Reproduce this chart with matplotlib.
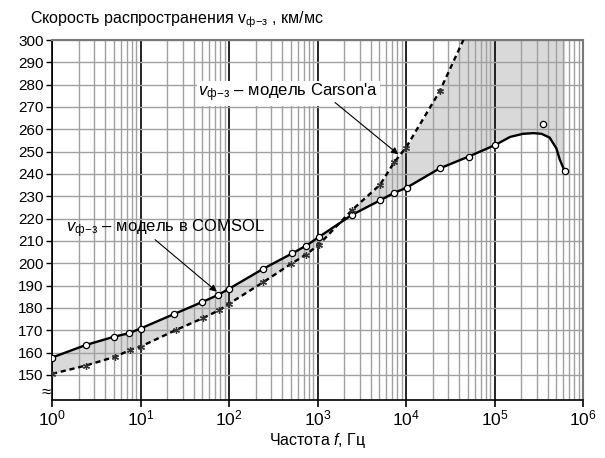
import numpy as np
import matplotlib.pyplot as plt
from matplotlib.ticker import LogLocator, NullFormatter

plt.rcParams['font.family'] = ['Liberation Sans', 'DejaVu Sans']
plt.rcParams['mathtext.fontset'] = 'custom'
plt.rcParams['mathtext.rm'] = 'Liberation Sans'
plt.rcParams['mathtext.it'] = 'Liberation Sans:italic'
plt.rcParams['mathtext.bf'] = 'Liberation Sans:bold'

# COMSOL model, circles
f_comsol = [1, 2.4, 5, 7.4, 10, 24, 50, 75, 100, 245, 515, 745, 1030, 2430,
            5090, 7400, 10200, 24000, 51000, 102000, 620000]
v_comsol = [157.8, 163.4, 167.1, 168.7, 170.8, 177.3, 182.7, 185.8, 188.6, 197.6,
            204.4, 207.9, 211.7, 221.6, 228.2, 231.6, 233.9, 242.5, 247.8, 253.0, 241.3]
# nodes of the solid curve around its maximum (no markers there)
f_bend = [150000, 210000, 275000, 340000, 420000, 500000, 545000]
v_bend = [256.6, 258.0, 258.3, 258.0, 256.3, 251.5, 246.6]
# lone circle above the curve
f_lone = [351000]
v_lone = [262.6]

# Carson model, stars
f_carson = [1, 2.4, 5.2, 7.6, 10, 25, 51, 78, 100, 245, 500, 740, 1040, 2430,
            5090, 7400, 10000, 24000]
v_carson = [150.5, 154.2, 158.2, 161.2, 162.7, 170.1, 175.5, 179.1, 181.9, 191.6,
            199.7, 203.9, 208.4, 223.7, 235.2, 245.4, 251.8, 277.0]
# where the dashed line leaves the top of the plot
f_carson_exit = [44500]
v_carson_exit = [300]

yticks = list(range(150, 301, 10))

fig = plt.figure(figsize=(6.05, 4.58), dpi=100)
ax = fig.add_axes([52 / 605, 58 / 458, 531 / 605, 360 / 458])

# solid curve
f_sol = np.array(f_comsol[:-1] + f_bend + f_comsol[-1:], dtype=float)
v_sol = np.array(v_comsol[:-1] + v_bend + v_comsol[-1:], dtype=float)
order = np.argsort(f_sol)
f_sol, v_sol = f_sol[order], v_sol[order]

# dashed curve
f_dash = np.array(f_carson + f_carson_exit, dtype=float)
v_dash = np.array(v_carson + v_carson_exit, dtype=float)

# shaded band between the two models
f_all = np.unique(np.concatenate([f_sol, f_dash]))
f_all = f_all[f_all <= f_sol.max()]
lg = np.log10(f_all)
s_i = np.interp(lg, np.log10(f_sol), v_sol)
d_i = np.interp(lg, np.log10(f_dash), v_dash, right=300)
ax.fill_between(f_all, s_i, np.minimum(d_i, 300), color='#d9d9d9', lw=0, zorder=1)

ax.plot(f_sol, v_sol, color='black', lw=1.7, zorder=3)
ax.plot(f_dash, v_dash, color='black', lw=1.7, ls=(0, (2.2, 1.6)), zorder=3)
ax.plot(f_comsol, v_comsol, ls='none', marker='o', ms=4.5, mfc='white',
        mec='black', mew=0.9, zorder=4)
ax.plot(f_lone, v_lone, ls='none', marker='o', ms=4.5, mfc='white',
        mec='black', mew=0.9, zorder=4)
ax.plot(f_carson, v_carson, ls='none', marker=(6, 2, 0), ms=5, color='#333333',
        mew=0.9, zorder=4)

ax.set_xscale('log')
ax.set_xlim(1, 1e6)
ax.set_ylim(138.8, 300)
ax.set_yticks(yticks)
ax.xaxis.set_major_locator(LogLocator(base=10, numticks=10))
ax.xaxis.set_minor_locator(LogLocator(base=10, subs=np.arange(2, 10), numticks=20))
ax.xaxis.set_minor_formatter(NullFormatter())

ax.set_axisbelow('line')
ax.grid(which='major', axis='x', color='black', lw=1.2)
ax.grid(which='minor', axis='x', color='#a0a0a0', lw=1.0)
ax.grid(which='major', axis='y', color='#a0a0a0', lw=1.0)

ax.tick_params(axis='y', labelsize=11, length=4, width=1, direction='out', pad=2)
ax.tick_params(axis='x', which='major', labelsize=12.5, length=5, width=1.2,
               direction='out', pad=1)
ax.tick_params(axis='x', which='minor', length=0)

for side in ['left', 'bottom']:
    ax.spines[side].set_color('black')
    ax.spines[side].set_linewidth(1.2)
for side in ['top', 'right']:
    ax.spines[side].set_color('#7a7a7a')
    ax.spines[side].set_linewidth(1.5)

ax.set_xlabel('Частота $f$, Гц', fontsize=11.5, labelpad=2)
fig.text(30 / 605, 1 - 20 / 458,
         r'Скорость распространения $\mathrm{v}_{\mathrm{ф\!-\!з}}$ , км/мс',
         fontsize=11.5, va='center', ha='left')

# break mark on the y axis
ax.text(-0.012, 0.02, '≈', transform=ax.transAxes, fontsize=12,
        ha='center', va='center')

# labels with arrows
ax.text(1.44, 215.6, r'$v_{\mathrm{ф\!-\!з}}$ – модель в COMSOL', fontsize=12,
        ha='left', va='center')
ax.annotate('', xy=(73, 187.3), xytext=(14.6, 210.6),
            arrowprops=dict(arrowstyle='-|>', color='black', lw=0.8,
                            mutation_scale=10, shrinkA=0, shrinkB=0))
ax.text(44.7, 276.2, r"$v_{\mathrm{ф\!-\!з}}$ – модель Carson'а", fontsize=12,
        ha='left', va='center',
        bbox=dict(facecolor='white', edgecolor='none', pad=1))
ax.annotate('', xy=(8180, 248.8), xytext=(1578, 272),
            arrowprops=dict(arrowstyle='-|>', color='black', lw=0.8,
                            mutation_scale=10, shrinkA=0, shrinkB=0))

fig.savefig('out.png', dpi=100)
